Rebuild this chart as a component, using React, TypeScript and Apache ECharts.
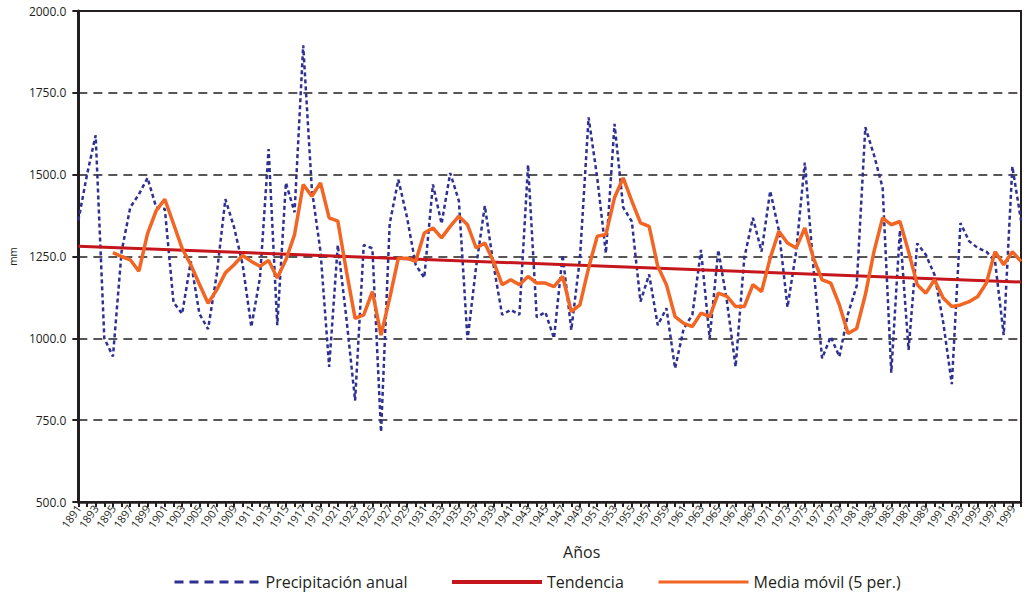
import React, { useEffect, useRef } from "react";
import * as echarts from "echarts";

const years: string[] = [
  "1891","1892","1893","1894","1895","1896","1897","1898","1899","1900",
  "1901","1902","1903","1904","1905","1906","1907","1908","1909","1910",
  "1911","1912","1913","1914","1915","1916","1917","1918","1919","1920",
  "1921","1922","1923","1924","1925","1926","1927","1928","1929","1930",
  "1931","1932","1933","1934","1935","1936","1937","1938","1939","1940",
  "1941","1942","1943","1944","1945","1946","1947","1948","1949","1950",
  "1951","1952","1953","1954","1955","1956","1957","1958","1959","1960",
  "1961","1962","1963","1964","1965","1966","1967","1968","1969","1970",
  "1971","1972","1973","1974","1975","1976","1977","1978","1979","1980",
  "1981","1982","1983","1984","1985","1986","1987","1988","1989","1990",
  "1991","1992","1993","1994","1995","1996","1997","1998","1999","2000",
];

const precipitacion: number[] = [
  1360, 1500, 1620, 1000, 945, 1265, 1400, 1440, 1490, 1400,
  1395, 1110, 1075, 1235, 1075, 1028, 1195, 1425, 1340, 1225,
  1035, 1185, 1578, 1040, 1475, 1385, 1895, 1455, 1265, 913,
  1285, 1060, 810, 1285, 1275, 714, 1350, 1485, 1370, 1225,
  1185, 1470, 1350, 1505, 1420, 995, 1220, 1405, 1225, 1072,
  1087, 1072, 1530, 1065, 1080, 1000, 1255, 1025, 1245, 1675,
  1490, 1260, 1655, 1400, 1357, 1112, 1195, 1040, 1092, 908,
  1030, 1072, 1270, 1000, 1270, 1112, 913, 1245, 1368, 1265,
  1450, 1330, 1095, 1265, 1537, 1215, 939, 1005, 944, 1075,
  1160, 1645, 1560, 1460, 895, 1330, 965, 1290, 1255, 1194,
  1050, 860, 1352, 1297, 1276, 1265, 1235, 1010, 1525, 1360,
];

const mediaMovil: (number | null)[] = [
  null, null, null, null, 1262, 1250, 1240, 1205, 1320, 1390,
  1425, 1350, 1275, 1225, 1165, 1107, 1148, 1200, 1225, 1253,
  1235, 1220, 1238, 1184, 1240, 1317, 1470, 1434, 1475, 1368,
  1358, 1205, 1061, 1072, 1143, 1010, 1123, 1245, 1245, 1235,
  1322, 1337, 1307, 1342, 1373, 1347, 1276, 1291, 1235, 1164,
  1179, 1164, 1189, 1169, 1169, 1158, 1189, 1082, 1102, 1215,
  1312, 1317, 1430, 1490, 1419, 1353, 1342, 1220, 1164, 1066,
  1046, 1036, 1077, 1066, 1138, 1128, 1097, 1097, 1164, 1143,
  1245, 1327, 1291, 1276, 1337, 1245, 1179, 1169, 1102, 1015,
  1030, 1133, 1265, 1368, 1347, 1357, 1265, 1164, 1138, 1179,
  1123, 1097, 1102, 1112, 1128, 1169, 1265, 1225, 1265, 1235,
];

const trendYears: string[] = ["1891", "2000"];
const trendValues: number[] = [1281, 1172];

const seriesNames = ["Precipitación anual", "Tendencia", "Media móvil (5 per.)"];

const FONT = "'Open Sans', 'Noto Sans', sans-serif";
const INK = "#231f20";
const BLUE = "#2e3192";
const RED = "#c4161c";
const ORANGE = "#f26522";

export default function App() {
  const ref = useRef<HTMLDivElement>(null);

  useEffect(() => {
    if (!ref.current) return;
    const chart = echarts.init(ref.current, null, { renderer: "svg" });
    const legendText = { fontFamily: FONT, fontSize: 16, color: INK };
    const hiddenSymbol = { opacity: 0 };
    chart.setOption({
      animation: false,
      backgroundColor: "#ffffff",
      textStyle: { fontFamily: FONT },
      grid: {
        left: 76,
        right: 11,
        top: 11,
        bottom: 92,
        show: true,
        borderColor: INK,
        borderWidth: 2,
        backgroundColor: "transparent",
      },
      legend: [
        {
          data: [seriesNames[0]],
          left: 168,
          top: 569,
          itemWidth: 86,
          itemHeight: 14,
          textStyle: legendText,
          itemStyle: hiddenSymbol,
          lineStyle: { type: [9, 6], width: 3 },
        },
        {
          data: [seriesNames[1]],
          left: 445,
          top: 569,
          itemWidth: 90,
          itemHeight: 14,
          textStyle: legendText,
          itemStyle: hiddenSymbol,
          lineStyle: { width: 4 },
        },
        {
          data: [seriesNames[2]],
          left: 652,
          top: 569,
          itemWidth: 90,
          itemHeight: 14,
          textStyle: legendText,
          itemStyle: hiddenSymbol,
          lineStyle: { width: 3 },
        },
      ],
      xAxis: {
        type: "category",
        data: years,
        boundaryGap: false,
        name: "Años",
        nameLocation: "middle",
        nameGap: 42,
        nameTextStyle: {
          fontFamily: FONT,
          fontSize: 16,
          color: INK,
          padding: [0, 0, 0, 64],
        },
        axisLine: { lineStyle: { color: INK, width: 2.5 } },
        axisTick: {
          show: true,
          interval: 0,
          length: 5,
          lineStyle: { color: INK, width: 2 },
        },
        axisLabel: {
          interval: 1,
          rotate: 55,
          fontSize: 11,
          color: INK,
          margin: 4,
          fontFamily: FONT,
        },
        splitLine: { show: false },
      },
      yAxis: {
        type: "value",
        min: 500,
        max: 2000,
        interval: 250,
        name: "mm",
        nameLocation: "middle",
        nameRotate: 90,
        nameGap: 56,
        nameTextStyle: { fontFamily: FONT, fontSize: 10, color: INK },
        axisLine: { show: true, lineStyle: { color: INK, width: 3 } },
        axisTick: { show: true, length: 6, lineStyle: { color: INK, width: 2 } },
        axisLabel: {
          formatter: (v: number) => v.toFixed(1),
          fontSize: 12,
          color: INK,
          margin: 12,
          fontFamily: FONT,
        },
        splitLine: {
          show: true,
          lineStyle: { color: INK, width: 1.6, type: [9, 6] },
        },
      },
      series: [
        {
          name: seriesNames[0],
          type: "line",
          data: precipitacion,
          symbol: "none",
          lineStyle: { color: BLUE, width: 2.5, type: [4, 3] },
          itemStyle: { color: BLUE },
          z: 2,
        },
        {
          name: seriesNames[1],
          type: "line",
          data: trendYears.map((y, i) => [y, trendValues[i]]),
          symbol: "none",
          lineStyle: { color: RED, width: 3 },
          itemStyle: { color: RED },
          z: 3,
        },
        {
          name: seriesNames[2],
          type: "line",
          data: mediaMovil,
          symbol: "none",
          connectNulls: false,
          lineStyle: { color: ORANGE, width: 3.5 },
          itemStyle: { color: ORANGE },
          z: 4,
        },
      ],
    });
    return () => chart.dispose();
  }, []);

  return (
    <div
      ref={ref}
      style={{ position: "fixed", left: 0, top: 0, width: 1032, height: 594, background: "#fff" }}
    />
  );
}
